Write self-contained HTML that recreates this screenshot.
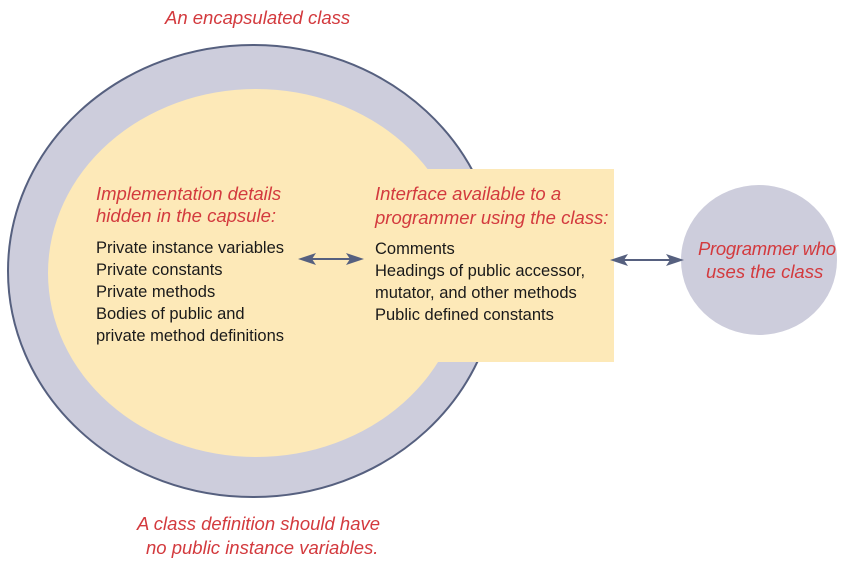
<!DOCTYPE html>
<html><head><meta charset="utf-8"><style>
html,body{margin:0;padding:0;background:#fff;}
svg{display:block;}
.r{font-family:"Liberation Sans",sans-serif;font-style:italic;fill:#d33a3e;font-size:18.5px;}
.b{font-family:"Liberation Sans",sans-serif;fill:#1a1a1a;font-size:16.5px;}
</style></head><body>
<svg width="868" height="563" viewBox="0 0 868 563" xmlns="http://www.w3.org/2000/svg">
<ellipse cx="253" cy="271" rx="245" ry="226" fill="#cdcddc" stroke="#56607f" stroke-width="2"/>
<ellipse cx="256" cy="273" rx="208" ry="184" fill="#fde9b8"/>
<rect x="362" y="169" width="252" height="193" fill="#fde9b8"/>
<ellipse cx="759" cy="260" rx="78" ry="75" fill="#cdcddc"/>
<text class="r" x="165" y="24">An encapsulated class</text>
<text class="r" x="96" y="200">Implementation details</text>
<text class="r" x="96" y="222">hidden in the capsule:</text>
<text class="b" x="96" y="253">Private instance variables</text>
<text class="b" x="96" y="275">Private constants</text>
<text class="b" x="96" y="297">Private methods</text>
<text class="b" x="96" y="319">Bodies of public and</text>
<text class="b" x="96" y="341">private method definitions</text>
<text class="r" x="375" y="200">Interface available to a</text>
<text class="r" x="375" y="224">programmer using the class:</text>
<text class="b" x="375" y="254">Comments</text>
<text class="b" x="375" y="276">Headings of public accessor,</text>
<text class="b" x="375" y="298">mutator, and other methods</text>
<text class="b" x="375" y="320">Public defined constants</text>
<text class="r" x="698" y="255" textLength="138">Programmer who</text>
<text class="r" x="706" y="278">uses the class</text>
<text class="r" x="137" y="530">A class definition should have</text>
<text class="r" x="146" y="554">no public instance variables.</text>
<g fill="#56607f" stroke="none">
<rect x="310" y="258" width="44" height="2"/>
<path d="M298,259 L316,253 L312,259 L316,265 z"/>
<path d="M364,259 L346,253 L350,259 L346,265 z"/>
<rect x="622" y="259" width="50" height="2"/>
<path d="M610,260 L628,254 L624,260 L628,266 z"/>
<path d="M684,260 L666,254 L670,260 L666,266 z"/>
</g>
</svg>
</body></html>
